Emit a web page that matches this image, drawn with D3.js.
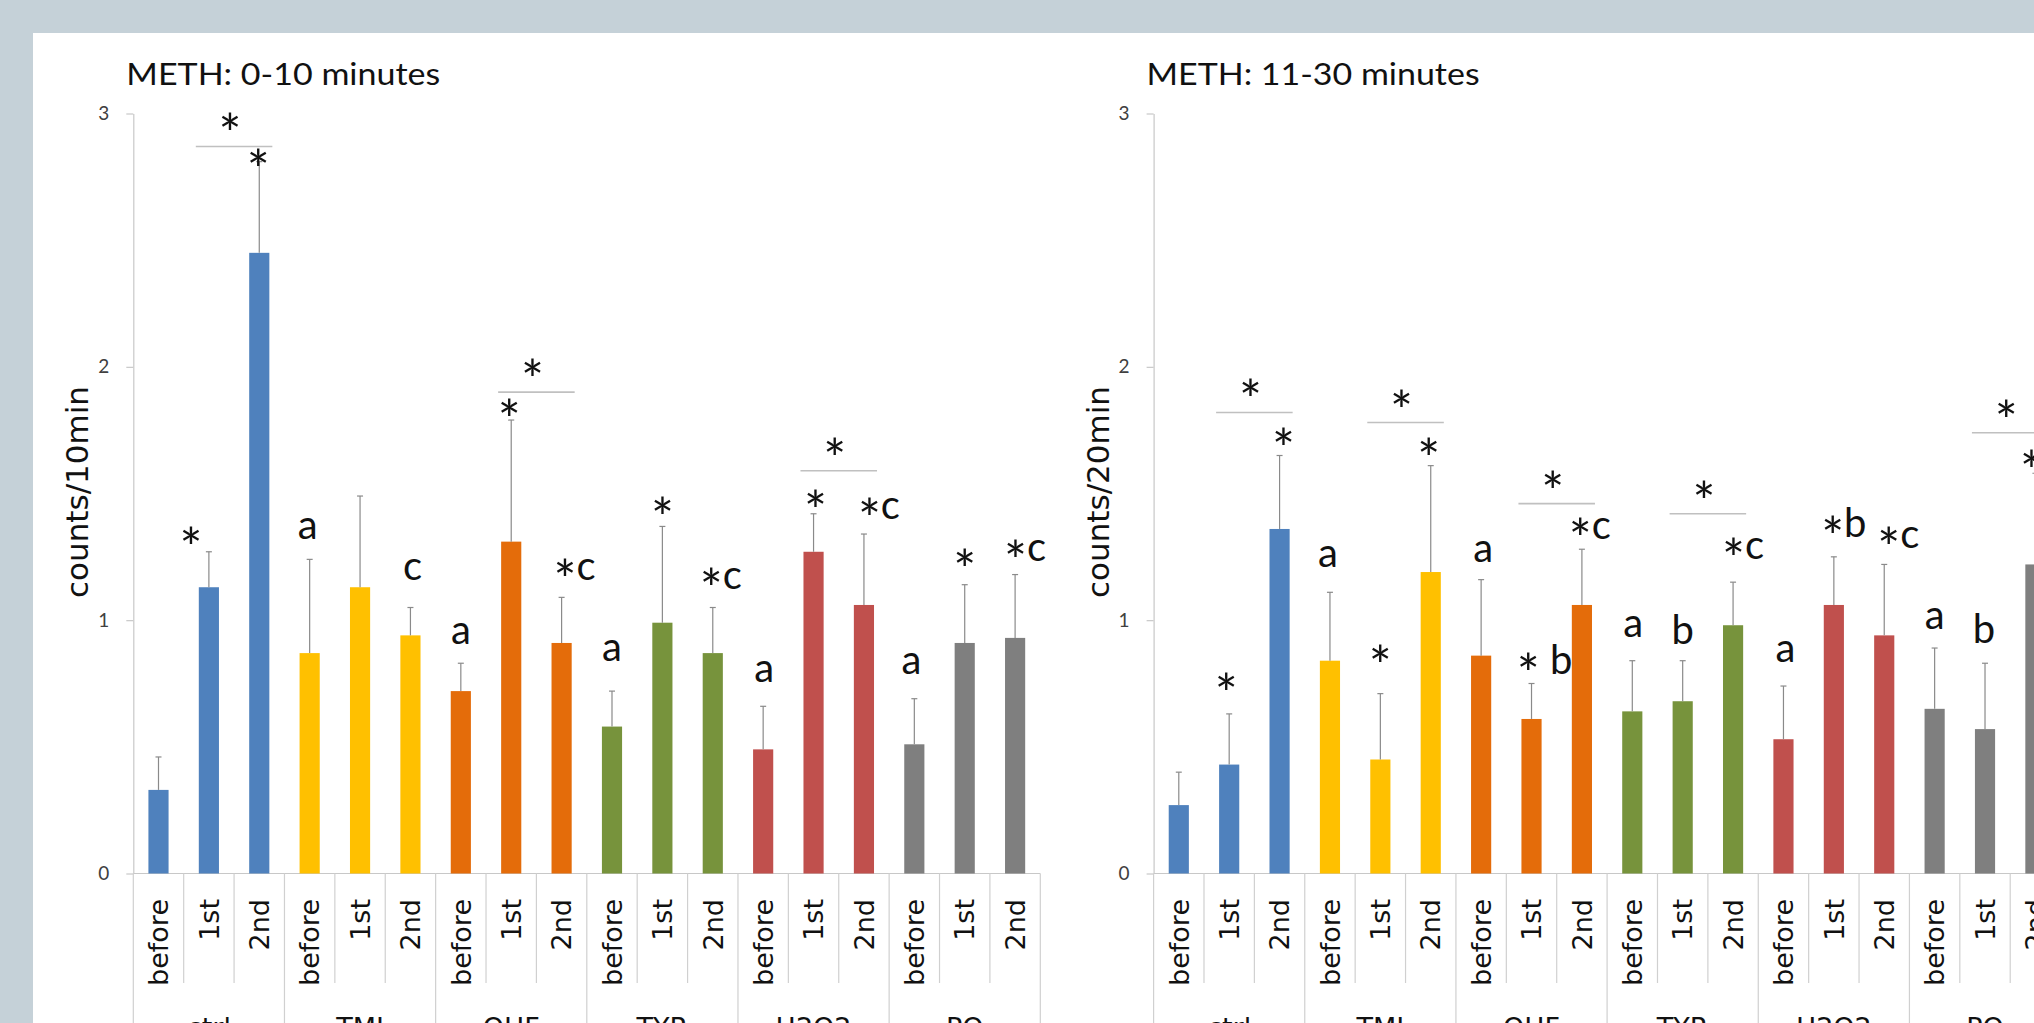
<!DOCTYPE html>
<html>
<head>
<meta charset="utf-8">
<script src="https://cdn.jsdelivr.net/npm/d3@7"></script>
<style>
  html, body { margin: 0; padding: 0; background: #c5d1d8; overflow: hidden; }
  svg { display: block; }
  .sig { white-space: pre; }
</style>
</head>
<body>
<svg id="chart" width="2034" height="1023"></svg>
<script>
// ---- data ----------------------------------------------------------------
const groups = ["ctrl", "TMI", "OHF", "TYR", "H2O2", "PO"];
const phases = ["before", "1st", "2nd"];
const groupColors = ["#4f81bd", "#ffc000", "#e46c0a", "#77933c", "#c0504d", "#7f7f7f"];
const yTicks = [0, 1, 2, 3];

// METH 0-10 minutes: mean counts/10min and SEM, bar order = group x phase
const means10 = [0.33, 1.13, 2.45, 0.87, 1.13, 0.94, 0.72, 1.31, 0.91,
                 0.58, 0.99, 0.87, 0.49, 1.27, 1.06, 0.51, 0.91, 0.93];
const sem10   = [0.13, 0.14, 0.36, 0.37, 0.36, 0.11, 0.11, 0.48, 0.18,
                 0.14, 0.38, 0.18, 0.17, 0.15, 0.28, 0.18, 0.23, 0.25];
const sig10   = ["", "*", "*", "a", "", "c", "a", "*", "*c",
                 "a", "*", "*c", "a", "*", "*c", "a", "*", "*c"];
// 1st vs 2nd comparisons: [bar i, bar j, bracket height]
const brackets10 = [[1, 2, 2.87], [7, 8, 1.90], [13, 14, 1.59]];

// METH 11-30 minutes: mean counts/20min and SEM
const means30 = [0.27, 0.43, 1.36, 0.84, 0.45, 1.19, 0.86, 0.61, 1.06,
                 0.64, 0.68, 0.98, 0.53, 1.06, 0.94, 0.65, 0.57, 1.22];
const sem30   = [0.13, 0.20, 0.29, 0.27, 0.26, 0.42, 0.30, 0.14, 0.22,
                 0.20, 0.16, 0.17, 0.21, 0.19, 0.28, 0.24, 0.26, 0.36];
const sig30   = ["", "*", "*", "a", "*", "*", "a", "* b", "*c",
                 "a", "b", "*c", "a", "*b", "*c", "a", "b", "*"];
const brackets30 = [[1, 2, 1.82], [4, 5, 1.78], [7, 8, 1.46], [10, 11, 1.42], [16, 17, 1.74]];

// ---- layout ---------------------------------------------------------------
// per-bar label placement: [horizontal shift px, gap above whisker px]
const nudge10 = [null, [-18, 17], [-1, 5], [-2, 31], null, [2, 38], [0, 30], [-2, 13], [13, 28],
                 [0, 41], [0, 21], [8, 29], [1, 35], [2, 16], [15, 26], [-3, 35], [0, 28], [10, 24]];
const nudge30 = [null, [-3, 33], [4, 20], [-2, 36], [0, 41], [-2, 20], [2, 28], [13, 25], [8, 21],
                 [1, 34], [0, 32], [10, 34], [2, 35], [10, 35], [14, 27], [0, 30], [-1, 35], [-4, 15]];

const W = 2034, H = 1023;
const plotW = 907, yTop = 113.5, yBase = 873.5;
const calibriLike = "Lato, 'Open Sans', sans-serif";
const verdanaLike = "'DejaVu Sans', Verdana, sans-serif";
const sigSize = 40, starSize = 54;
const starCentre = 13; // star centre above the baseline when it precedes a letter

const panels = [
  { title: "METH: 0-10 minutes", yLabel: "counts/10min", left: 133.3, titleLen: 314,
    means: means10, sem: sem10, sig: sig10, brackets: brackets10, nudge: nudge10 },
  { title: "METH: 11-30 minutes", yLabel: "counts/20min", left: 1153.6, titleLen: 333,
    means: means30, sem: sem30, sig: sig30, brackets: brackets30, nudge: nudge30 }
];

const bars = groups.flatMap((g, gi) => phases.map((p, pi) => ({ group: g, gi, phase: p, key: gi * 3 + pi })));

const svg = d3.select("#chart");
svg.append("rect").attr("x", 33).attr("y", 33).attr("width", W - 33).attr("height", H - 33).attr("fill", "#ffffff");

// ink metrics used to centre the significance marks vertically
const ctx = document.createElement("canvas").getContext("2d");
function inkHalf(str, size) {
  ctx.font = `${size}px Lato`;
  const m = ctx.measureText(str);
  return (m.actualBoundingBoxAscent - m.actualBoundingBoxDescent) / 2;
}

function addMark(g, text, cx, cy) {
  const letters = text.replace(/[*\s]/g, "");
  const half = letters.length ? inkHalf(letters, sigSize) : inkHalf("*", starSize);
  const t = g.append("text").attr("class", "sig")
    .attr("x", cx).attr("y", cy + half)
    .attr("text-anchor", "middle")
    .attr("font-family", calibriLike).attr("font-size", sigSize).attr("fill", "#111");
  let shift = 0;
  text.split(/(\*)/).filter(s => s.length).forEach(p => {
    const ts = t.append("tspan").text(p);
    if (p === "*") {
      ts.attr("font-size", starSize);
      if (letters.length) {
        // lower the star so it sits level with the letter beside it
        shift = inkHalf("*", starSize) - starCentre;
        ts.attr("dy", shift);
      }
    } else if (shift) {
      ts.attr("dy", -shift);
      shift = 0;
    }
  });
}

panels.forEach(P => {
  const g = svg.append("g");
  const x = d3.scaleBand().domain(bars.map(b => b.key))
    .range([P.left, P.left + plotW]).paddingInner(0.6).paddingOuter(0.3);
  const y = d3.scaleLinear().domain([0, 3]).range([yBase, yTop]);
  const step = x.step(), bw = x.bandwidth();

  // title
  g.append("text").attr("x", P.left - 7).attr("y", 85)
    .attr("font-family", calibriLike).attr("font-size", 30).attr("fill", "#111")
    .attr("textLength", P.titleLen).attr("lengthAdjust", "spacingAndGlyphs")
    .text(P.title);

  // y axis
  const ax = g.append("g").attr("transform", `translate(${P.left},0)`)
    .call(d3.axisLeft(y).tickValues(yTicks).tickFormat(d3.format("d"))
      .tickSizeInner(7).tickSizeOuter(0).tickPadding(17));
  ax.select(".domain").attr("stroke", "#c8c8c8").attr("stroke-width", 1.2);
  ax.selectAll(".tick line").attr("stroke", "#c8c8c8").attr("stroke-width", 1.2);
  ax.selectAll(".tick text").attr("font-family", calibriLike).attr("font-size", 19).attr("fill", "#404040");

  g.append("text")
    .attr("transform", `translate(${P.left - 45},492) rotate(-90)`)
    .attr("text-anchor", "middle")
    .attr("font-family", verdanaLike).attr("font-size", 31).attr("fill", "#111")
    .text(P.yLabel);

  // category axis: baseline, separators, labels
  g.append("line").attr("x1", P.left).attr("x2", P.left + plotW)
    .attr("y1", y(0)).attr("y2", y(0)).attr("stroke", "#c8c8c8").attr("stroke-width", 1.2);
  g.selectAll("line.sep").data(d3.range(bars.length + 1)).join("line").attr("class", "sep")
    .attr("x1", i => P.left + i * step).attr("x2", i => P.left + i * step)
    .attr("y1", y(0)).attr("y2", i => i % 3 === 0 ? H + 5 : 983)
    .attr("stroke", "#d0d0d0").attr("stroke-width", 1.2);
  g.selectAll("text.cat").data(bars).join("text").attr("class", "cat")
    .attr("transform", d => `translate(${x(d.key) + bw / 2},899) rotate(-90)`)
    .attr("dy", "0.36em").attr("text-anchor", "end")
    .attr("font-family", verdanaLike).attr("font-size", 27).attr("fill", "#111")
    .text(d => d.phase);
  g.selectAll("text.grp").data(groups).join("text").attr("class", "grp")
    .attr("x", (d, i) => P.left + (i * 3 + 1.5) * step).attr("y", 1037)
    .attr("text-anchor", "middle")
    .attr("font-family", verdanaLike).attr("font-size", 27).attr("fill", "#111")
    .text(d => d);

  // bars
  g.selectAll("rect.bar").data(bars).join("rect").attr("class", "bar")
    .attr("x", d => x(d.key)).attr("width", bw)
    .attr("y", d => y(P.means[d.key])).attr("height", d => y(0) - y(P.means[d.key]))
    .attr("fill", d => groupColors[d.gi]);

  // upper SEM whiskers
  const eb = g.selectAll("g.err").data(bars).join("g").attr("class", "err")
    .attr("stroke", "#8a8a8a").attr("stroke-width", 1.2);
  eb.append("line")
    .attr("x1", d => x(d.key) + bw / 2).attr("x2", d => x(d.key) + bw / 2)
    .attr("y1", d => y(P.means[d.key])).attr("y2", d => y(P.means[d.key] + P.sem[d.key]));
  eb.append("line")
    .attr("x1", d => x(d.key) + bw / 2 - 3).attr("x2", d => x(d.key) + bw / 2 + 3)
    .attr("y1", d => y(P.means[d.key] + P.sem[d.key])).attr("y2", d => y(P.means[d.key] + P.sem[d.key]));

  // significance marks above each bar
  bars.forEach(d => {
    const s = P.sig[d.key], n = P.nudge[d.key];
    if (!s || !n) return;
    addMark(g, s, x(d.key) + bw / 2 + n[0], y(P.means[d.key] + P.sem[d.key]) - n[1]);
  });

  // 1st vs 2nd comparison brackets
  P.brackets.forEach(([i, j, lvl]) => {
    const x1 = x(i) - 3, x2 = x(j) + bw + 3;
    g.append("line").attr("x1", x1).attr("x2", x2).attr("y1", y(lvl)).attr("y2", y(lvl))
      .attr("stroke", "#c0c0c0").attr("stroke-width", 1.6);
    addMark(g, "*", (x1 + x2) / 2 - 4, y(lvl) - 25);
  });
});
</script>
</body>
</html>
